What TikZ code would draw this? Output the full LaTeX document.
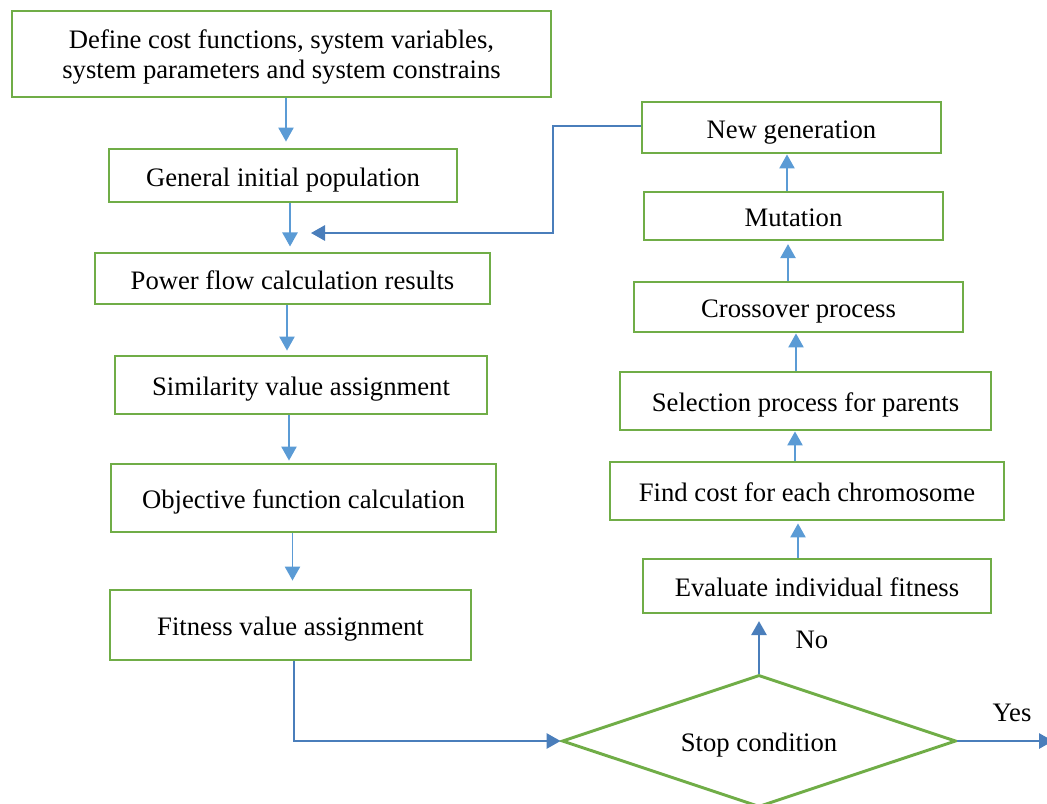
\documentclass[tikz,border=0pt]{standalone}
\usepackage{fontspec}
\setmainfont{Liberation Serif}
\usetikzlibrary{arrows.meta,shapes.geometric}
\definecolor{boxgreen}{HTML}{70AD47}
\definecolor{lightblue}{HTML}{5B9BD5}
\definecolor{darkblue}{HTML}{4A7EBB}
\tikzset{
  box/.style={draw=boxgreen, line width=2.2pt, fill=white, inner sep=0pt,
    font=\fontsize{20}{22.5}\selectfont, text height=16pt, text depth=0pt},
  arr/.style={draw=lightblue, line width=1.1pt, -{Triangle[length=10.5pt,width=11.5pt]}},
  darr/.style={draw=darkblue, line width=1.4pt, -{Triangle[length=10.5pt,width=11.5pt]}},
  lbl/.style={font=\fontsize{20}{22.5}\selectfont, inner sep=0pt, text height=16pt, text depth=0pt}
}
\begin{document}
\begin{tikzpicture}[x=0.75pt,y=-0.75pt]
\useasboundingbox (0,0) rectangle (1047,804);
% left column
\node[box, minimum width=539*0.75pt, minimum height=86*0.75pt, align=center, text height=, text depth=0pt] (b1) at (281.5,54)
  {Define cost functions, system variables,\\system parameters and system constrains};
\node[box, minimum width=348*0.75pt, minimum height=53*0.75pt] (b2) at (283,175.5) {General initial population};
\node[box, minimum width=395*0.75pt, minimum height=51*0.75pt] (b3) at (292.5,278.5) {Power flow calculation results};
\node[box, minimum width=372*0.75pt, minimum height=58*0.75pt] (b4) at (301,385) {Similarity value assignment};
\node[box, minimum width=385*0.75pt, minimum height=68*0.75pt] (b5) at (303.5,498) {Objective function calculation};
\node[box, minimum width=361*0.75pt, minimum height=70*0.75pt] (b6) at (290.5,625) {Fitness value assignment};
% right column
\node[box, minimum width=299*0.75pt, minimum height=51*0.75pt] (r1) at (791.5,127.5) {New generation};
\node[box, minimum width=299*0.75pt, minimum height=48*0.75pt] (r2) at (793.5,216) {Mutation};
\node[box, minimum width=329*0.75pt, minimum height=50*0.75pt] (r3) at (798.5,307) {Crossover process};
\node[box, minimum width=371*0.75pt, minimum height=58*0.75pt] (r4) at (805.5,401) {Selection process for parents};
\node[box, minimum width=394*0.75pt, minimum height=58*0.75pt] (r5) at (807,491) {Find cost for each chromosome};
\node[box, minimum width=348*0.75pt, minimum height=54*0.75pt] (r6) at (817,586) {Evaluate individual fitness};
% decision
\node[draw=boxgreen, line width=2.2pt, diamond, shape aspect=3, inner sep=0pt,
  minimum width=394*0.75pt, minimum height=132*0.75pt,
  font=\fontsize{20}{22.5}\selectfont, text height=16pt, text depth=0pt] (d) at (759,741) {Stop condition};
% labels
\node[lbl] (no) at (812,638) {No};
\node[lbl] (yes) at (1012,711) {Yes};
% coordinates
\coordinate (fbend) at (311,233);
\coordinate (fbcorner1) at (553,126);
\coordinate (fbcorner2) at (553,233);
\coordinate (botcorner) at (294,741);
\coordinate (yesend) at (1053,741);
% left column arrows
\draw[arr, shorten >=4.5pt] (b1.south -| 286,0) -- (b2.north -| 286,0);
\draw[arr, shorten >=3.8pt] (b2.south -| 290,0) -- (b3.north -| 290,0);
\draw[arr, shorten >=3pt] (b3.south -| 287,0) -- (b4.north -| 287,0);
\draw[arr, shorten >=1.5pt] (b4.south -| 289,0) -- (b5.north -| 289,0);
\draw[arr, shorten >=6pt] (b5.south -| 292.5,0) -- (b6.north -| 292.5,0);
% right column arrows
\draw[arr] (r2.north -| 787,0) -- (r1.south -| 787,0);
\draw[arr, shorten >=2pt] (r3.north -| 788,0) -- (r2.south -| 788,0);
\draw[arr] (r4.north -| 796,0) -- (r3.south -| 796,0);
\draw[arr] (r5.north -| 795,0) -- (r4.south -| 795,0);
\draw[arr, shorten >=1.5pt] (r6.north -| 798,0) -- (r5.south -| 798,0);
% dark connectors
\draw[darr] (r1.west |- fbcorner1) -- (fbcorner1) -- (fbcorner2) -- (fbend);
\draw[darr] (b6.south -| botcorner) -- (botcorner) -- (d.west);
\draw[darr, shorten >=5pt] (d.north) -- (r6.south -| d.north);
\draw[darr] (d.east) -- (yesend);
\end{tikzpicture}
\end{document}
